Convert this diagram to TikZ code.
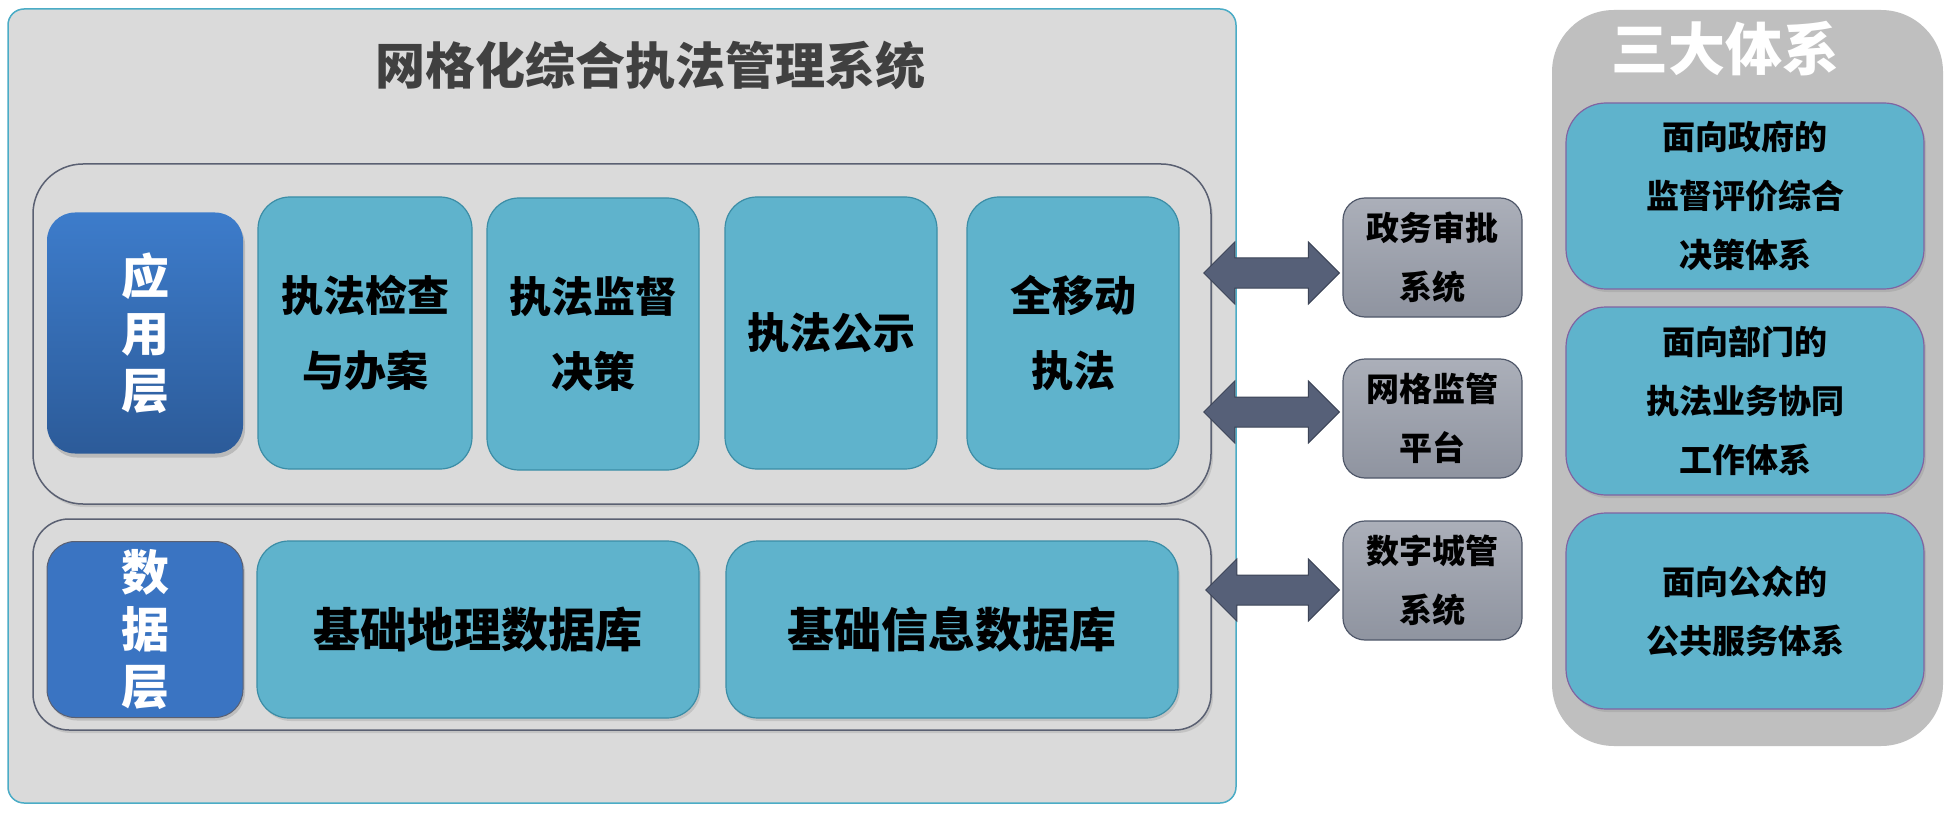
\documentclass[tikz,border=0pt]{standalone}
\usepackage{fontspec}
\setmainfont{Noto Sans CJK SC}
\usetikzlibrary{calc,shadows}
\definecolor{mainfill}{HTML}{DADADA}
\definecolor{mainborder}{HTML}{4BACC6}
\definecolor{layerborder}{HTML}{5A6072}
\definecolor{tealfill}{HTML}{5FB3CC}
\definecolor{tealborder}{HTML}{3B8DA6}
\definecolor{bluetop}{HTML}{3D7CCB}
\definecolor{bluebot}{HTML}{2C5B99}
\definecolor{bluedata}{HTML}{3A74C2}
\definecolor{graytop}{HTML}{ABAFB9}
\definecolor{graybot}{HTML}{8F94A0}
\definecolor{grayborder}{HTML}{50586A}
\definecolor{arrowfill}{HTML}{566078}
\definecolor{arrowborder}{HTML}{3C4457}
\definecolor{panelfill}{HTML}{BFBFBF}
\definecolor{purpleborder}{HTML}{8064A2}
\definecolor{titlegray}{HTML}{404040}
\tikzset{
  mainbox/.style={draw=mainborder, fill=mainfill, line width=1.5pt, rounded corners=16pt, inner sep=0pt},
  layerbox/.style={draw=layerborder, fill=mainfill, line width=1.5pt, rounded corners=50pt, inner sep=0pt,
    drop shadow={shadow xshift=2pt, shadow yshift=-3pt, opacity=0.25}},
  tbox/.style={draw=tealborder, fill=tealfill, line width=1.2pt, rounded corners=32pt, inner sep=0pt,
    align=center, font=\fontsize{42}{75}\selectfont\bfseries},
  dbox/.style={draw=tealborder, fill=tealfill, line width=1.2pt, rounded corners=32pt, inner sep=0pt,
    align=center, font=\fontsize{47}{60}\selectfont\bfseries,
    drop shadow={shadow xshift=2pt, shadow yshift=-3pt, opacity=0.25}},
  appbox/.style={draw=none, top color=bluetop, bottom color=bluebot, rounded corners=28pt, inner sep=0pt,
    align=center, text=white, font=\fontsize{48}{57}\selectfont\bfseries,
    drop shadow={shadow xshift=2pt, shadow yshift=-4pt, opacity=0.35}},
  databox/.style={draw=layerborder, fill=bluedata, line width=1pt, rounded corners=28pt, inner sep=0pt,
    align=center, text=white, font=\fontsize{48}{57}\selectfont\bfseries,
    drop shadow={shadow xshift=2pt, shadow yshift=-3pt, opacity=0.3}},
  sysbox/.style={draw=grayborder, top color=graytop, bottom color=graybot, line width=1.2pt, rounded corners=22pt,
    inner sep=0pt, align=center, font=\fontsize{33}{59}\selectfont\bfseries},
  panel/.style={draw=none, fill=panelfill, rounded corners=62pt, inner sep=0pt},
  sbox/.style={draw=purpleborder, fill=tealfill, line width=1.2pt, rounded corners=40pt, inner sep=0pt,
    align=center, font=\fontsize{33}{59}\selectfont\bfseries,
    drop shadow={shadow xshift=2pt, shadow yshift=-3pt, opacity=0.25}},
  dblarrow/.style={draw=arrowborder, fill=arrowfill, line width=1pt, line join=miter}
}
\newcommand{\dblarr}[2]{%
  \path[dblarrow] (#1) -- ($(#1)+(31,-31)$) -- ($(#1)+(31,-15)$) -- ($(#2)+(-31,-15)$) -- ($(#2)+(-31,-31)$)
    -- (#2) -- ($(#2)+(-31,31)$) -- ($(#2)+(-31,15)$) -- ($(#1)+(31,15)$) -- ($(#1)+(31,31)$) -- cycle;}
\begin{document}
\begin{tikzpicture}[x=1pt,y=-1pt]
\useasboundingbox (0,0) rectangle (1947,813);
\fill[white] (0,0) rectangle (1947,813);
% main system
\node[mainbox, minimum width=1228pt, minimum height=794pt] (main) at (622,406) {};
\node[text=titlegray, font=\fontsize{50}{60}\selectfont\bfseries] (title) at (650,65) {网格化综合执法管理系统};
% application layer
\node[layerbox, minimum width=1178pt, minimum height=340pt] (applayer) at (622,334) {};
\node[appbox, minimum width=196pt, minimum height=241pt] (app) at (145,333) {应\\用\\层};
\node[tbox, minimum width=214pt, minimum height=272pt] (b1) at (365,333) {执法检查\\与办案};
\node[tbox, minimum width=212pt, minimum height=272pt] (b2) at (593,334) {执法监督\\决策};
\node[tbox, minimum width=212pt, minimum height=272pt] (b3) at (831,333) {执法公示};
\node[tbox, minimum width=212pt, minimum height=272pt] (b4) at (1073,333) {全移动\\执法};
% data layer
\node[layerbox, minimum width=1178pt, minimum height=211pt, rounded corners=36pt] (datalayer) at (622,624.5) {};
\node[databox, minimum width=196pt, minimum height=176pt] (data) at (145,629.5) {数\\据\\层};
\node[dbox, minimum width=442pt, minimum height=177pt] (d1) at (478,629.5) {基础地理数据库};
\node[dbox, minimum width=452pt, minimum height=177pt] (d2) at (952,629.5) {基础信息数据库};
% external systems
\node[sysbox, minimum width=179pt, minimum height=119pt] (r1) at (1432.5,257.5) {政务审批\\系统};
\node[sysbox, minimum width=179pt, minimum height=119pt] (r2) at (1432.5,418.5) {网格监管\\平台};
\node[sysbox, minimum width=179pt, minimum height=119pt] (r3) at (1432.5,580.5) {数字城管\\系统};
\coordinate (a1l) at ($(applayer.east |- 0,273)+(-8,0)$);
\coordinate (a1r) at ($(r1.west |- a1l)+(-3,0)$);
\coordinate (a2l) at ($(applayer.east |- 0,412)+(-8,0)$);
\coordinate (a2r) at ($(r2.west |- a2l)+(-3,0)$);
\coordinate (a3l) at ($(datalayer.east |- 0,590)+(-6,0)$);
\coordinate (a3r) at ($(r3.west |- a3l)+(-3,0)$);
\dblarr{a1l}{a1r}
\dblarr{a2l}{a2r}
\dblarr{a3l}{a3r}
% three systems panel
\node[panel, minimum width=391pt, minimum height=736pt] (panel) at (1747.5,378) {};
\node[text=white, font=\fontsize{57}{60}\selectfont\bfseries] (ptitle) at (1725,49) {三大体系};
\node[sbox, minimum width=358pt, minimum height=186pt] (s1) at (1745,196) {面向政府的\\监督评价综合\\决策体系};
\node[sbox, minimum width=358pt, minimum height=188pt] (s2) at (1745,401) {面向部门的\\执法业务协同\\工作体系};
\node[sbox, minimum width=358pt, minimum height=196pt] (s3) at (1745,611) {面向公众的\\公共服务体系};
\end{tikzpicture}
\end{document}
